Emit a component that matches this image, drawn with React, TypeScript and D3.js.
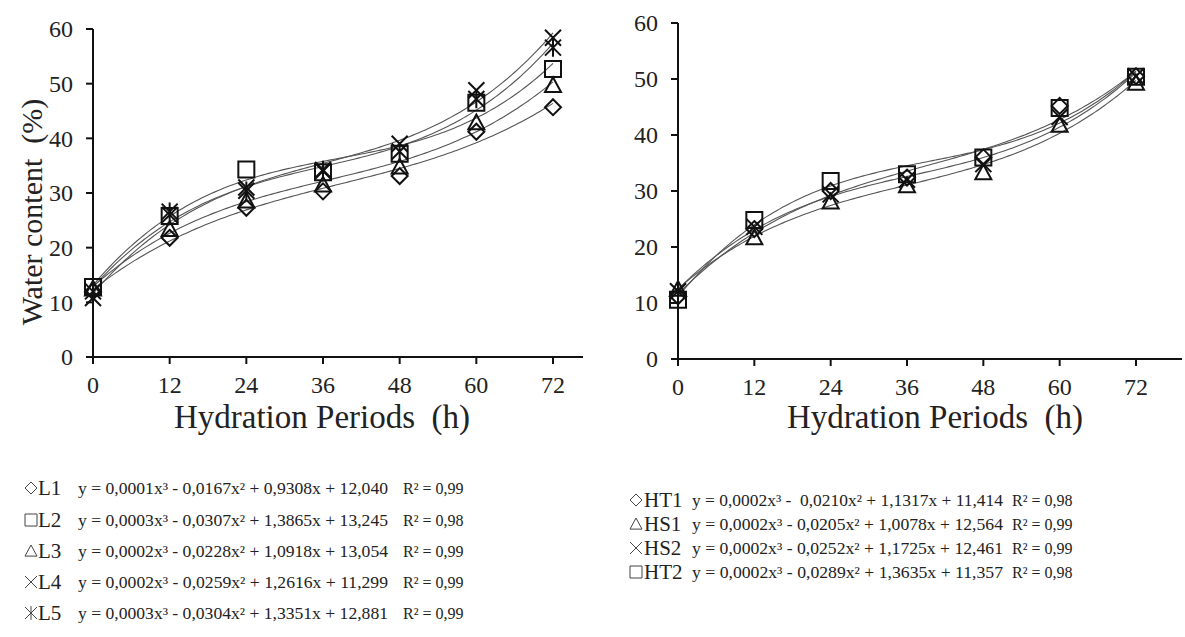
import React from 'react'
import * as d3 from 'd3'

// hydration periods (h)
const hours = [0, 12, 24, 36, 48, 60, 72]
const yTicks = [0, 10, 20, 30, 40, 50, 60]

// left panel: lines L1..L5
const L1 = [12.0, 21.8, 27.3, 30.3, 33.1, 41.2, 45.7]
const L2 = [12.8, 25.8, 34.3, 33.8, 37.2, 46.5, 52.7]
const L3 = [12.5, 23.4, 28.6, 31.5, 34.8, 42.9, 49.7]
const L4 = [10.8, 26.0, 31.0, 34.0, 39.0, 48.8, 58.4]
const L5 = [12.0, 26.6, 30.4, 34.2, 37.6, 47.2, 56.6]

// right panel: HT1, HS1, HS2, HT2
const HT1 = [11.2, 23.2, 30.0, 32.4, 36.0, 45.2, 50.5]
const HS1 = [12.5, 21.7, 28.1, 31.0, 33.3, 41.8, 49.3]
const HS2 = [12.1, 23.6, 29.4, 32.0, 34.8, 43.2, 50.5]
const HT2 = [10.6, 24.8, 31.8, 33.0, 36.0, 44.8, 50.4]

const leftNames = ['L1', 'L2', 'L3', 'L4', 'L5']
const leftShapes = ['diamond', 'square', 'triangle', 'x', 'asterisk']
const leftEqs = [
  'y = 0,0001x³ - 0,0167x² + 0,9308x + 12,040',
  'y = 0,0003x³ - 0,0307x² + 1,3865x + 13,245',
  'y = 0,0002x³ - 0,0228x² + 1,0918x + 13,054',
  'y = 0,0002x³ - 0,0259x² + 1,2616x + 11,299',
  'y = 0,0003x³ - 0,0304x² + 1,3351x + 12,881'
]
const leftR2 = ['R² = 0,99', 'R² = 0,98', 'R² = 0,99', 'R² = 0,99', 'R² = 0,99']

const rightNames = ['HT1', 'HS1', 'HS2', 'HT2']
const rightShapes = ['diamond', 'triangle', 'x', 'square']
const rightEqs = [
  'y = 0,0002x³ -  0,0210x² + 1,1317x + 11,414',
  'y = 0,0002x³ - 0,0205x² + 1,0078x + 12,564',
  'y = 0,0002x³ - 0,0252x² + 1,1725x + 12,461',
  'y = 0,0002x³ - 0,0289x² + 1,3635x + 11,357'
]
const rightR2 = ['R² = 0,98', 'R² = 0,99', 'R² = 0,99', 'R² = 0,98']

const FONT = '"Liberation Serif", "Times New Roman", serif'

// least squares cubic trend line
function fitCubic(xs: number[], ys: number[]) {
  const n = 4
  const A: number[][] = []
  for (let i = 0; i < n; i++) {
    A.push([])
    for (let j = 0; j < n; j++) A[i].push(d3.sum(xs, x => Math.pow(x, i + j)))
    A[i].push(d3.sum(xs, (x, k) => Math.pow(x, i) * ys[k]))
  }
  for (let c = 0; c < n; c++) {
    let p = c
    for (let r = c + 1; r < n; r++) if (Math.abs(A[r][c]) > Math.abs(A[p][c])) p = r
    const t = A[c]; A[c] = A[p]; A[p] = t
    for (let r = 0; r < n; r++) {
      if (r === c) continue
      const f = A[r][c] / A[c][c]
      for (let k = c; k <= n; k++) A[r][k] -= f * A[c][k]
    }
  }
  const coef = A.map((row, i) => row[n] / row[i])
  return (x: number) => coef[0] + coef[1] * x + coef[2] * x * x + coef[3] * x * x * x
}

function shapePath(shape: string, r: number) {
  switch (shape) {
    case 'diamond':
      return `M0,${-r}L${r},0L0,${r}L${-r},0Z`
    case 'square':
      return `M${-r},${-r}H${r}V${r}H${-r}Z`
    case 'triangle':
      return `M0,${-r}L${r},${r * 0.85}H${-r}Z`
    case 'x':
      return `M${-r},${-r}L${r},${r}M${r},${-r}L${-r},${r}`
    default:
      return `M${-r},${-r}L${r},${r}M${r},${-r}L${-r},${r}M0,${-r * 1.15}V${r * 1.15}`
  }
}

function Panel({ series, shapes, x0, x1, y0, y1, axisEnd, titleX, labelX }: any) {
  const x = d3.scaleLinear().domain([0, 72]).range([x0, x1])
  const y = d3.scaleLinear().domain([0, 60]).range([y0, y1])
  const xs = d3.range(0, 72.01, 0.5)
  const line = d3.line<[number, number]>().x(d => x(d[0])).y(d => y(d[1]))
  return (
    <g>
      {series.map((s: number[], i: number) => {
        const f = fitCubic(hours, s)
        return <path key={'c' + i} d={line(xs.map(h => [h, f(h)] as [number, number])) as any}
          fill="none" stroke="#555" strokeWidth={1.1} />
      })}
      {series.map((s: number[], i: number) =>
        s.map((v, j) => (
          <path key={'m' + i + '-' + j} d={shapePath(shapes[i], 8)}
            transform={`translate(${x(hours[j])},${y(v)})`}
            fill="none" stroke="#111" strokeWidth={2} />
        ))
      )}
      <line x1={x0} x2={x0} y1={y(0)} y2={y(60)} stroke="#111" strokeWidth={2} />
      <line x1={x0 - 7} x2={axisEnd} y1={y(0)} y2={y(0)} stroke="#111" strokeWidth={2} />
      {yTicks.map(t => (
        <g key={'y' + t}>
          <line x1={x0 - 7} x2={x0} y1={y(t)} y2={y(t)} stroke="#111" strokeWidth={2} />
          <text x={labelX} y={y(t)} dy="0.35em" textAnchor="end" fontSize={24} fontFamily={FONT} fill="#222">{t}</text>
        </g>
      ))}
      {hours.map(h => (
        <g key={'x' + h}>
          <line x1={x(h)} x2={x(h)} y1={y(0)} y2={y(0) + 7} stroke="#111" strokeWidth={2} />
          <text x={x(h)} y={y(0) + 36} textAnchor="middle" fontSize={24} fontFamily={FONT} fill="#222">{h}</text>
        </g>
      ))}
      <text x={titleX} y={428} textAnchor="middle" fontSize={33} fontFamily={FONT} fill="#222" xmlSpace="preserve">Hydration Periods  (h)</text>
    </g>
  )
}

function Legend({ names, shapes, eqs, r2, rows, symX, nameX, eqX, eqLen, r2X, nameSize, eqSize }: any) {
  return (
    <g fontFamily={FONT} fill="#222">
      {names.map((n: string, i: number) => (
        <g key={n}>
          <path d={shapePath(shapes[i], 6)} transform={`translate(${symX},${rows[i]})`} fill="none" stroke="#444" strokeWidth={1} />
          <text x={nameX} y={rows[i]} dy="0.35em" fontSize={nameSize}>{n}</text>
          <text x={eqX} y={rows[i]} dy="0.35em" fontSize={eqSize} xmlSpace="preserve"
            textLength={eqLen} lengthAdjust="spacingAndGlyphs">{eqs[i]}</text>
          <text x={r2X} y={rows[i]} dy="0.35em" fontSize={eqSize}>{r2[i]}</text>
        </g>
      ))}
    </g>
  )
}

export default function App() {
  return (
    <svg width={1185} height={637} style={{ position: 'absolute', left: 0, top: 0, background: '#fff' }}>
      <rect width={1185} height={637} fill="#fff" />
      <Panel series={[L1, L2, L3, L4, L5]} shapes={leftShapes}
        x0={93} x1={553} y0={357} y1={29} axisEnd={583} titleX={322} labelX={73} />
      <Panel series={[HT1, HS1, HS2, HT2]} shapes={rightShapes}
        x0={678} x1={1136} y0={359} y1={23} axisEnd={1182} titleX={935} labelX={658} />
      <text transform="translate(42,212) rotate(-90)" textAnchor="middle" fontSize={30} fontFamily={FONT} fill="#222" xmlSpace="preserve">Water content  (%)</text>
      <Legend names={leftNames} shapes={leftShapes} eqs={leftEqs} r2={leftR2}
        rows={[488, 520, 551, 582, 613]} symX={31} nameX={38} eqX={78} eqLen={310} r2X={403}
        nameSize={21} eqSize={16} />
      <Legend names={rightNames} shapes={rightShapes} eqs={rightEqs} r2={rightR2}
        rows={[500, 524, 548, 572]} symX={636} nameX={644} eqX={692} eqLen={311} r2X={1012}
        nameSize={21} eqSize={16} />
    </svg>
  )
}
